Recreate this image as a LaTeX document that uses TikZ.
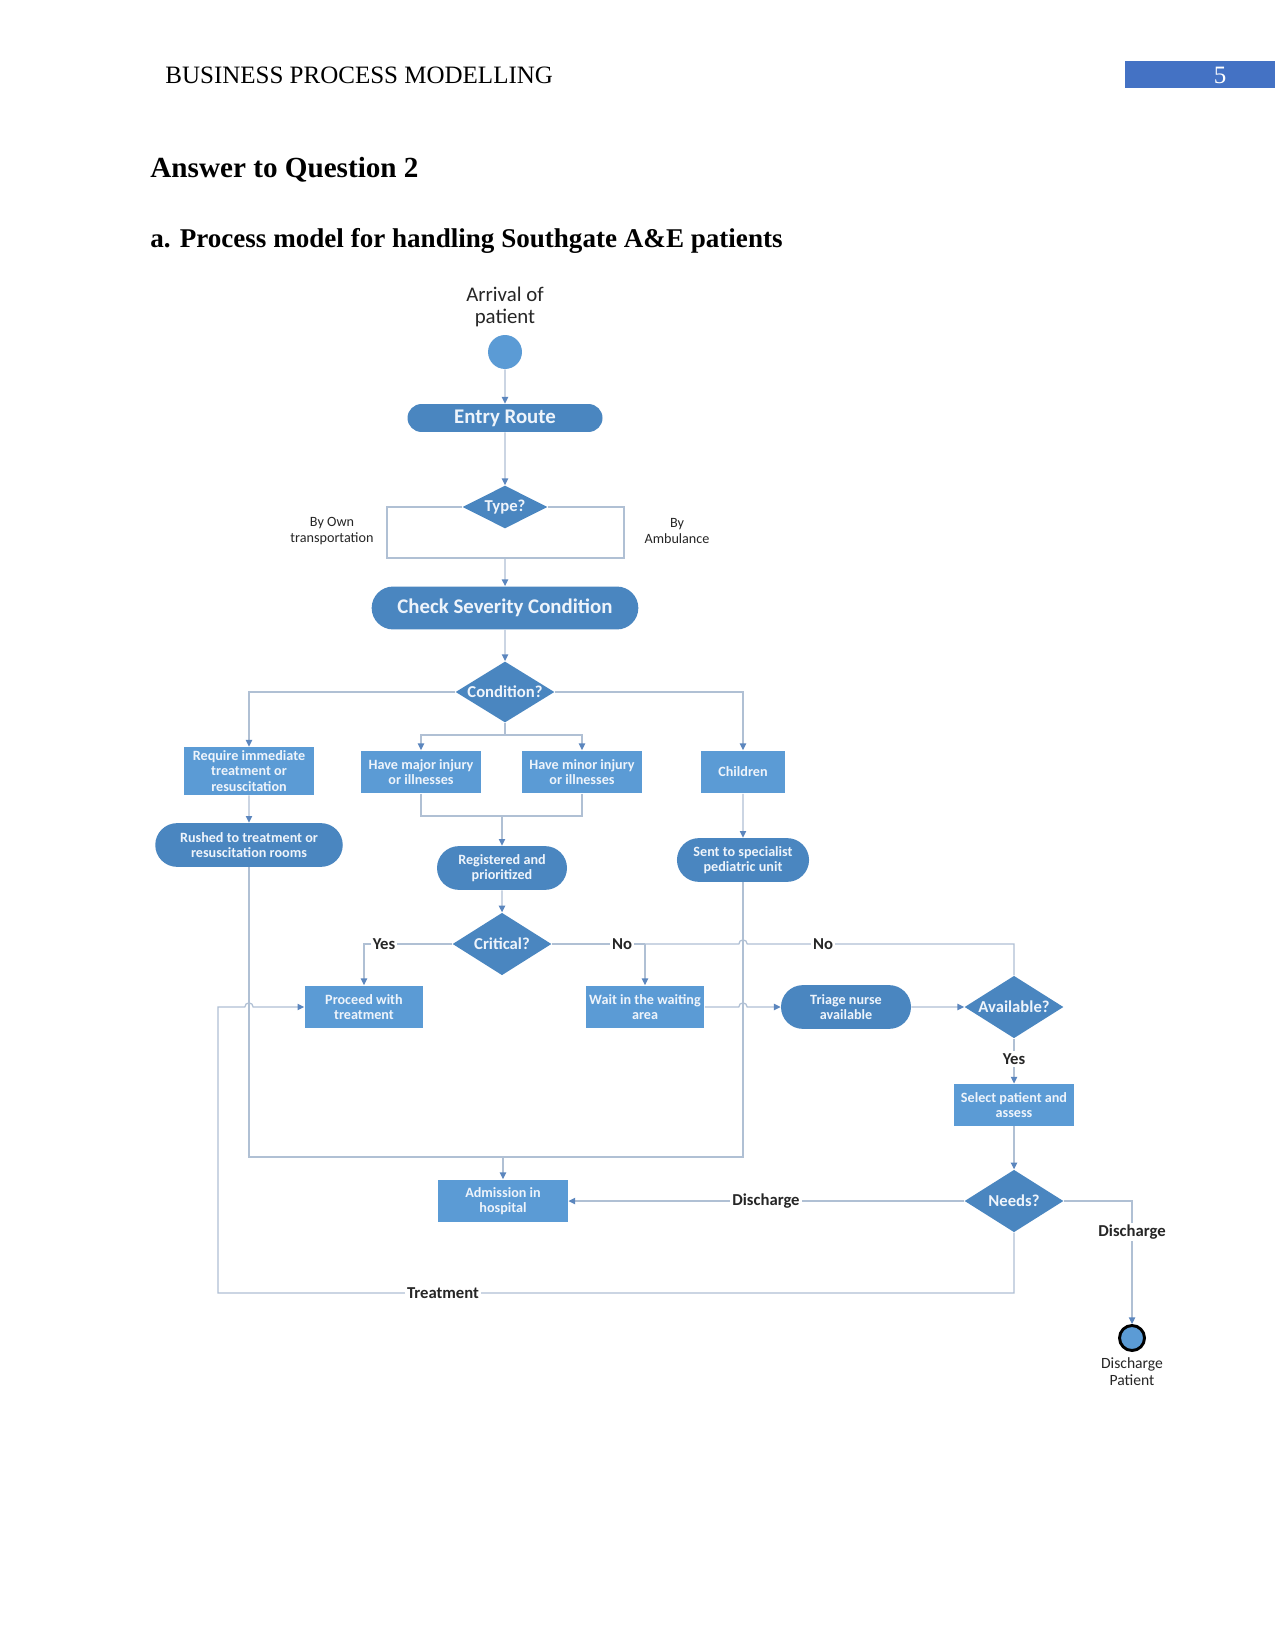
\documentclass[tikz,border=0pt]{standalone}
\usepackage{fontspec}
\setmainfont{Liberation Serif}
\newfontfamily\calib{Carlito}
\usetikzlibrary{shapes.geometric,shapes.misc,arrows.meta}
\definecolor{boxblue}{HTML}{5B9BD5}
\definecolor{darkblue}{HTML}{4A86C0}
\definecolor{linecol}{HTML}{B0C0D4}
\definecolor{tipcol}{HTML}{5B86BE}
\definecolor{txtcol}{HTML}{EEF4FB}
\definecolor{pagebox}{HTML}{4472C4}
\begin{document}
\begin{tikzpicture}[x=0.48pt,y=-0.48pt,
  ln/.style={draw=linecol,line width=0.6pt},
  arr/.style={ln,-{Triangle[length=3.2pt,width=3pt,color=tipcol]}},
  box/.style={rectangle,fill=boxblue,text=txtcol,font=\calib\bfseries\fontsize{6.8}{7.4}\selectfont,align=center,inner sep=0pt,minimum width=57.6pt,minimum height=20.6pt},
  pill/.style={rounded rectangle,fill=darkblue,text=txtcol,font=\calib\bfseries\fontsize{6.8}{7.4}\selectfont,align=center,inner sep=0pt,minimum height=21pt},
  dia/.style={diamond,fill=darkblue,text=txtcol,font=\calib\bfseries\fontsize{8}{9}\selectfont,inner sep=-2pt,aspect=1.6,minimum width=47.5pt,minimum height=30pt},
  lab/.style={font=\calib\bfseries\fontsize{8}{9}\selectfont,text=black!85,fill=white,inner sep=1pt},
  note/.style={font=\calib\fontsize{6.8}{7.7}\selectfont,align=center,text=black!85,inner sep=0pt},
]
\useasboundingbox (0,0) rectangle (1275,1650);
\fill[white] (0,0) rectangle (1275,1650);

% header
\node[anchor=west,inner sep=0pt,font=\fontsize{12}{14}\selectfont] (hdr) at (165,75) {BUSINESS PROCESS MODELLING};
\fill[pagebox] (1125,61) rectangle (1275,88);
\node[text=white,inner sep=0pt,font=\fontsize{12}{14}\selectfont] (pg) at (1220,75) {5};
\node[anchor=west,inner sep=0pt,font=\bfseries\fontsize{14}{16}\selectfont] (h1) at (150,170) {Answer to Question 2};
\node[anchor=west,inner sep=0pt,font=\bfseries\fontsize{13}{16}\selectfont] (h2) at (150,241) {a. Process model for handling Southgate A\&E patients};

% nodes
\node[note,font=\calib\fontsize{10}{10.6}\selectfont] (arrival) at (505,307) {Arrival of\\patient};
\node[circle,fill=boxblue,minimum size=16.3pt,inner sep=0pt] (start) at (505,352) {};
\node[pill,minimum width=93.6pt,minimum height=13.4pt,font=\calib\bfseries\fontsize{10}{12}\selectfont] (entry) at (505,418) {Entry Route};
\node[dia,aspect=2,minimum width=40.8pt,minimum height=20.6pt] (type) at (505,507) {Type?};
\node[note] (ownlab) at (332,531) {By Own\\transportation};
\node[note] (amblab) at (677,531) {By\\Ambulance};
\node[pill,minimum width=128pt,minimum height=20.6pt,font=\calib\bfseries\fontsize{10}{12}\selectfont] (check) at (505,608) {Check Severity Condition};
\node[dia,minimum height=29.3pt] (cond) at (505,692) {Condition?};
\node[box,minimum width=62pt,minimum height=23pt] (req) at (249,771) {Require immediate\\treatment or\\resuscitation};
\node[box] (major) at (421,772) {Have major injury\\or illnesses};
\node[box] (minor) at (582,772) {Have minor injury\\or illnesses};
\node[box,minimum width=40pt] (child) at (743,772) {Children};
\node[pill,minimum width=90pt] (rushed) at (249,845) {Rushed to treatment or\\resuscitation rooms};
\node[pill,minimum width=62.4pt] (reg) at (502,868) {Registered and\\prioritized};
\node[pill,minimum width=63.4pt] (sent) at (743,860) {Sent to specialist\\pediatric unit};
\node[dia] (crit) at (502,944) {Critical?};
\node[box,minimum width=57pt] (proc) at (364,1007) {Proceed with\\treatment};
\node[box,minimum width=57pt] (wait) at (645,1007) {Wait in the waiting\\area};
\node[pill,minimum width=62.4pt] (triage) at (846,1007) {Triage nurse\\available};
\node[dia] (avail) at (1014,1007) {Available?};
\node[box,minimum height=20.2pt] (sel) at (1014,1105) {Select patient and\\assess};
\node[dia] (needs) at (1014,1201) {Needs?};
\node[box,minimum width=62.4pt] (adm) at (503,1201) {Admission in\\hospital};
\node[circle,fill=boxblue,draw=black,line width=1.4pt,minimum size=12pt,inner sep=0pt] (end) at (1132,1338) {};
\node[note,font=\calib\fontsize{7.5}{8.2}\selectfont] (endlab) at (1132,1372) {Discharge\\Patient};

% connectors
\draw[arr] (start) -- (entry);
\draw[arr] (entry) -- (type);
\coordinate (tj) at (505,558);
\draw[ln] (type.west) -| (387,558) -- (tj);
\draw[ln] (type.east) -| (624,558) -- (tj);
\draw[arr] (tj) -- (check);
\draw[arr] (check) -- (cond);
\draw[arr] (cond.west) -| (req.north);
\draw[arr] (cond.east) -| (child.north);
\coordinate (cj) at (505,735);
\draw[ln] (cond.south) -- (cj);
\draw[arr] (cj) -| (major.north);
\draw[arr] (cj) -| (minor.north);
\coordinate (mj) at (502,816);
\draw[ln] (major.south) |- (mj);
\draw[ln] (minor.south) |- (mj);
\draw[arr] (mj) -- (reg.north);
\draw[arr] (req) -- (rushed);
\draw[arr] (child) -- (sent);
\draw[arr] (reg) -- (crit);

% bottom collector
\coordinate (bl) at (249,1157);
\coordinate (br) at (743,1157);
\coordinate (bm) at (503,1157);
\draw[ln] (rushed.south) -- (bl) -- (br) -- (sent.south);
\draw[arr] (bm) -- (adm.north);

% critical branches
\draw[arr] (crit.west) -| (proc.north);
\coordinate (nj) at (645,944);
\draw[ln] (crit.east) -- (nj);
\draw[arr] (nj) -- (wait.north);
\draw[ln] (avail.north) -- (1014,944) -- (747.2,944) arc[start angle=0,end angle=180,radius=2pt] -- (nj);
\draw[arr] (wait.east) -- (738.8,1007) arc[start angle=180,end angle=0,radius=2pt] -- (triage.west);
\draw[arr] (triage) -- (avail);
\draw[arr] (avail) -- (sel);
\draw[arr] (sel) -- (needs);
\draw[arr] (needs.west) -- (adm.east);
\draw[arr] (needs.east) -| (end.north);
\draw[arr] (needs.south) -- (1014,1293) -- (218,1293) -- (218,1007) -- (244.8,1007) arc[start angle=180,end angle=0,radius=2pt] -- (proc.west);

% labels
\node[lab] (yes1) at (384,944) {Yes};
\node[lab] (no1) at (622,944) {No};
\node[lab] (no2) at (823,944) {No};
\node[lab] (yes2) at (1014,1059) {Yes};
\node[lab] (dis1) at (766,1201) {Discharge};
\node[lab] (dis2) at (1132,1232) {Discharge};
\node[lab] (treat) at (443,1293) {Treatment};
\end{tikzpicture}
\end{document}
